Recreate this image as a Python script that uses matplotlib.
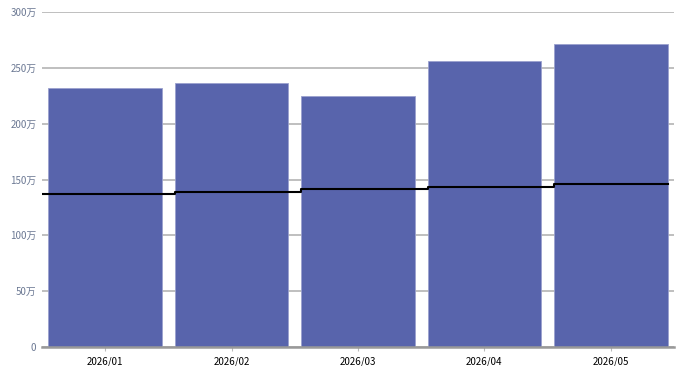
import matplotlib
matplotlib.use("Agg")
import matplotlib.pyplot as plt
import numpy as np

plt.rcParams['font.family'] = ['Noto Sans CJK JP', 'DejaVu Sans']

categories = ["2026/01", "2026/02", "2026/03", "2026/04", "2026/05"]
bar_values = [232, 236.5, 224.5, 256, 271.5]          # 万
line_values = [136.7, 139.0, 141.2, 143.3, 146.0]     # 万
y_ticks = [0, 50, 100, 150, 200, 250, 300]
y_tick_labels = ["0", "50万", "100万", "150万", "200万", "250万", "300万"]

fig = plt.figure(figsize=(6.83, 3.66), dpi=100)
ax = fig.add_axes([42/683, 19/366, 632/683, 335/366])

x = np.arange(len(categories))
bw = 0.9
ax.bar(x, bar_values, width=bw, color="#5864AC", edgecolor="#9BA1CE",
       linewidth=0.6, zorder=2)

# step line: changes at the left edge of each bar
sx = list(x - bw/2)
sx[0] = -0.5
sx.append(x[-1] + bw/2)
sy = list(line_values) + [line_values[-1]]
ax.plot(sx, sy, drawstyle="steps-post", color="#000000", linewidth=1.5, zorder=3)

ax.set_xlim(-0.5, len(categories) - 0.5)
ax.set_ylim(0, 300)
ax.set_yticks(y_ticks)
ax.set_yticklabels(y_tick_labels)
ax.set_xticks(x)
ax.set_xticklabels(categories)

ax.yaxis.grid(True, color="#B4B4B4", linewidth=1.2, zorder=0)
ax.set_axisbelow(True)
for s in ["top", "right", "left"]:
    ax.spines[s].set_visible(False)
ax.spines["bottom"].set_color("#999999")
ax.spines["bottom"].set_linewidth(1.8)
ax.spines["bottom"].set_zorder(4)

ax.tick_params(axis="y", length=0, pad=4, labelsize=7, labelcolor="#6B7893")
ax.tick_params(axis="x", length=3, width=0.8, color="#BBBBBB", pad=4,
               labelsize=7, labelcolor="#000000")

fig.savefig("out.png", dpi=100)
